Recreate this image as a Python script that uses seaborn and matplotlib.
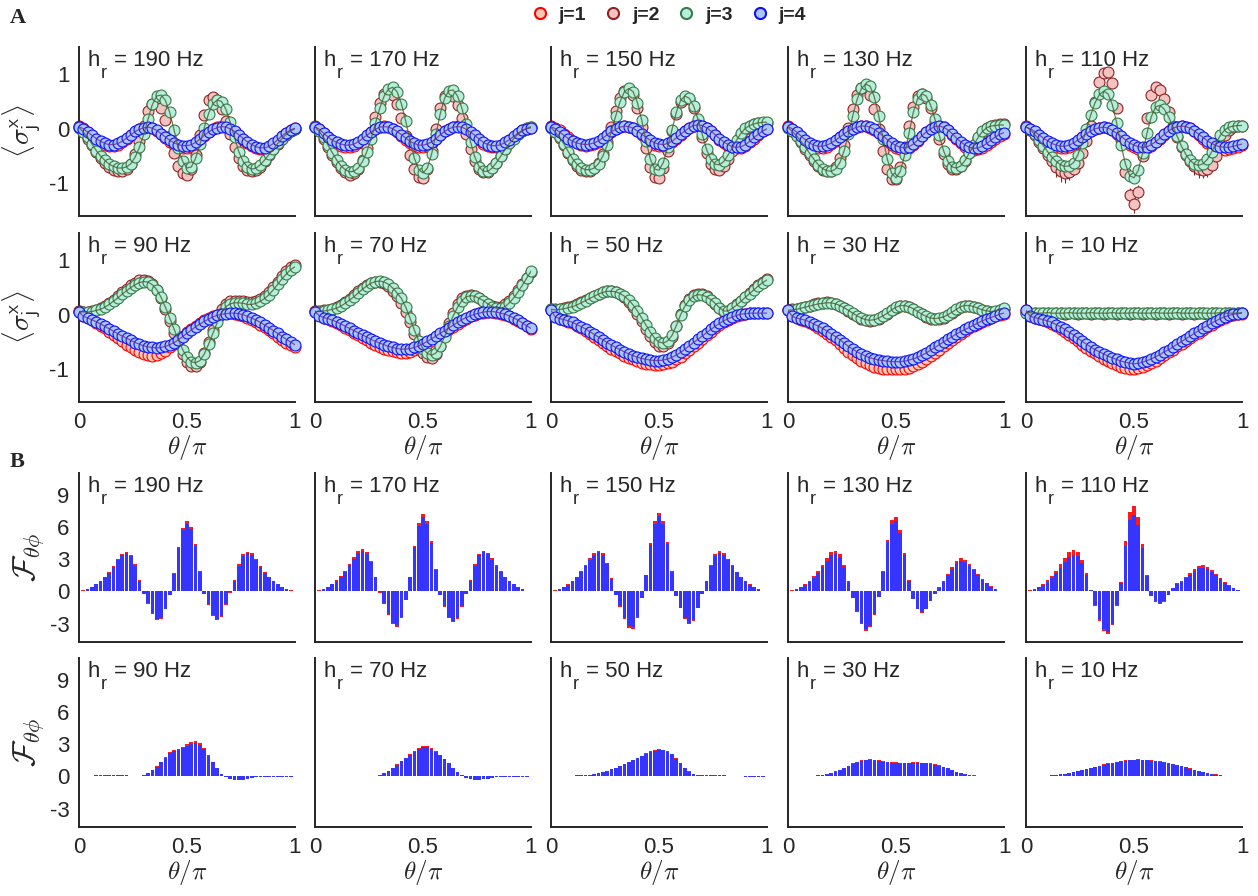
import matplotlib
matplotlib.use('Agg')
import matplotlib.pyplot as plt
from matplotlib.lines import Line2D
import seaborn as sns

# theta / pi sample points
theta = [0.00, 0.02, 0.04, 0.06, 0.08, 0.10, 0.12, 0.14, 0.16, 0.18,
         0.20, 0.22, 0.24, 0.26, 0.28, 0.30, 0.32, 0.34, 0.36, 0.38,
         0.40, 0.42, 0.44, 0.46, 0.48, 0.50, 0.52, 0.54, 0.56, 0.58,
         0.60, 0.62, 0.64, 0.66, 0.68, 0.70, 0.72, 0.74, 0.76, 0.78,
         0.80, 0.82, 0.84, 0.86, 0.88, 0.90, 0.92, 0.94, 0.96, 0.98,
         1.00]

hr_values = [190, 170, 150, 130, 110, 90, 70, 50, 30, 10]

# ---- <sigma_j^x>, one list per spin j ----
s190_j1 = [0.05, 0.01, -0.06, -0.13, -0.20, -0.26, -0.30, -0.32, -0.32, -0.30,
           -0.25, -0.19, -0.12, -0.06, -0.01, 0.02, 0.03, 0.01, -0.04, -0.10,
           -0.17, -0.24, -0.29, -0.33, -0.35, -0.35, -0.33, -0.28, -0.21, -0.13,
           -0.06, -0.01, 0.03, 0.05, 0.04, 0.00, -0.06, -0.13, -0.20, -0.27,
           -0.32, -0.36, -0.38, -0.38, -0.35, -0.29, -0.22, -0.14, -0.07, -0.02,
           0.01]
s190_j2 = [0.03, -0.06, -0.18, -0.30, -0.42, -0.53, -0.62, -0.70, -0.75, -0.78,
           -0.78, -0.74, -0.64, -0.46, -0.22, 0.06, 0.32, 0.46, 0.48, 0.38,
           0.16, -0.14, -0.44, -0.68, -0.82, -0.85, -0.74, -0.48, -0.12, 0.26,
           0.52, 0.58, 0.52, 0.36, 0.14, -0.10, -0.34, -0.54, -0.68, -0.76,
           -0.78, -0.76, -0.70, -0.60, -0.49, -0.38, -0.28, -0.19, -0.11, -0.05,
           -0.01]
s190_j3 = [0.02, -0.06, -0.16, -0.28, -0.40, -0.50, -0.58, -0.65, -0.69, -0.72,
           -0.72, -0.70, -0.64, -0.52, -0.34, -0.10, 0.18, 0.45, 0.60, 0.62,
           0.52, 0.30, -0.02, -0.36, -0.60, -0.72, -0.70, -0.54, -0.28, 0.02,
           0.28, 0.46, 0.53, 0.50, 0.36, 0.12, -0.16, -0.42, -0.60, -0.70,
           -0.74, -0.72, -0.66, -0.57, -0.47, -0.37, -0.27, -0.18, -0.10, -0.04,
           0.00]
s190_j4 = [0.04, 0.00, -0.06, -0.12, -0.18, -0.23, -0.27, -0.29, -0.29, -0.27,
           -0.23, -0.17, -0.11, -0.05, -0.01, 0.02, 0.03, 0.01, -0.03, -0.09,
           -0.15, -0.21, -0.26, -0.29, -0.31, -0.31, -0.29, -0.25, -0.19, -0.12,
           -0.06, -0.01, 0.02, 0.04, 0.03, 0.00, -0.05, -0.11, -0.18, -0.24,
           -0.29, -0.33, -0.35, -0.35, -0.32, -0.27, -0.20, -0.13, -0.07, -0.02,
           0.01]

s170_j1 = [0.05, 0.00, -0.08, -0.16, -0.23, -0.28, -0.31, -0.33, -0.33, -0.31,
           -0.26, -0.20, -0.13, -0.06, -0.01, 0.03, 0.05, 0.04, 0.00, -0.06,
           -0.13, -0.20, -0.26, -0.31, -0.34, -0.34, -0.31, -0.26, -0.19, -0.12,
           -0.05, 0.00, 0.04, 0.05, 0.04, -0.01, -0.07, -0.14, -0.21, -0.28,
           -0.32, -0.34, -0.34, -0.32, -0.27, -0.21, -0.15, -0.09, -0.04, 0.00,
           0.02]
s170_j2 = [0.04, -0.05, -0.18, -0.33, -0.48, -0.61, -0.72, -0.80, -0.84, -0.82,
           -0.74, -0.58, -0.36, -0.08, 0.22, 0.48, 0.64, 0.68, 0.62, 0.46,
           0.20, -0.14, -0.48, -0.74, -0.88, -0.90, -0.74, -0.40, 0.00, 0.38,
           0.60, 0.66, 0.60, 0.44, 0.20, -0.10, -0.38, -0.60, -0.74, -0.80,
           -0.79, -0.72, -0.62, -0.50, -0.38, -0.27, -0.17, -0.09, -0.03, 0.02,
           0.04]
s170_j3 = [0.03, -0.05, -0.16, -0.30, -0.44, -0.57, -0.68, -0.75, -0.79, -0.78,
           -0.72, -0.60, -0.42, -0.18, 0.10, 0.38, 0.60, 0.73, 0.76, 0.68,
           0.46, 0.14, -0.22, -0.54, -0.75, -0.81, -0.72, -0.46, -0.10, 0.28,
           0.56, 0.70, 0.71, 0.60, 0.38, 0.08, -0.24, -0.52, -0.70, -0.78,
           -0.78, -0.72, -0.62, -0.50, -0.38, -0.27, -0.18, -0.10, -0.04, 0.01,
           0.04]
s170_j4 = [0.04, -0.01, -0.08, -0.15, -0.21, -0.25, -0.28, -0.30, -0.30, -0.28,
           -0.24, -0.18, -0.12, -0.06, -0.01, 0.03, 0.04, 0.03, 0.00, -0.05,
           -0.11, -0.17, -0.23, -0.27, -0.30, -0.30, -0.28, -0.24, -0.18, -0.11,
           -0.05, 0.00, 0.03, 0.04, 0.03, -0.01, -0.06, -0.12, -0.19, -0.25,
           -0.29, -0.31, -0.31, -0.29, -0.25, -0.20, -0.14, -0.08, -0.03, 0.00,
           0.02]

s150_j1 = [0.05, 0.02, -0.03, -0.09, -0.16, -0.22, -0.27, -0.30, -0.31, -0.30,
           -0.28, -0.24, -0.18, -0.12, -0.06, -0.01, 0.03, 0.05, 0.04, 0.01,
           -0.05, -0.11, -0.18, -0.24, -0.29, -0.32, -0.32, -0.30, -0.25, -0.18,
           -0.11, -0.04, 0.02, 0.06, 0.07, 0.06, 0.02, -0.05, -0.12, -0.20,
           -0.27, -0.32, -0.35, -0.36, -0.35, -0.31, -0.25, -0.18, -0.11, -0.05,
           -0.01]
s150_j2 = [0.03, -0.06, -0.17, -0.30, -0.45, -0.58, -0.68, -0.75, -0.78, -0.77,
           -0.72, -0.62, -0.46, -0.24, 0.04, 0.32, 0.56, 0.70, 0.72, 0.62,
           0.38, 0.04, -0.36, -0.70, -0.88, -0.90, -0.72, -0.40, -0.04, 0.28,
           0.50, 0.58, 0.54, 0.38, 0.14, -0.16, -0.44, -0.64, -0.74, -0.75,
           -0.68, -0.55, -0.40, -0.24, -0.11, -0.01, 0.05, 0.08, 0.10, 0.11,
           0.11]
s150_j3 = [0.02, -0.06, -0.16, -0.28, -0.42, -0.55, -0.65, -0.72, -0.75, -0.75,
           -0.72, -0.64, -0.50, -0.30, -0.04, 0.24, 0.50, 0.68, 0.74, 0.68,
           0.48, 0.16, -0.22, -0.56, -0.74, -0.76, -0.62, -0.34, -0.02, 0.30,
           0.52, 0.60, 0.56, 0.42, 0.18, -0.10, -0.38, -0.56, -0.65, -0.66,
           -0.60, -0.48, -0.34, -0.20, -0.08, 0.01, 0.06, 0.09, 0.11, 0.12,
           0.12]
s150_j4 = [0.04, 0.00, -0.06, -0.12, -0.18, -0.23, -0.26, -0.28, -0.29, -0.28,
           -0.26, -0.22, -0.17, -0.11, -0.05, -0.01, 0.03, 0.05, 0.04, 0.01,
           -0.04, -0.10, -0.16, -0.21, -0.26, -0.28, -0.29, -0.27, -0.23, -0.17,
           -0.10, -0.04, 0.02, 0.06, 0.07, 0.06, 0.02, -0.04, -0.11, -0.18,
           -0.24, -0.29, -0.33, -0.34, -0.33, -0.29, -0.23, -0.16, -0.10, -0.04,
           0.00]

s130_j1 = [0.05, 0.00, -0.07, -0.15, -0.23, -0.29, -0.33, -0.35, -0.35, -0.33,
           -0.28, -0.22, -0.16, -0.10, -0.04, 0.00, 0.03, 0.05, 0.05, 0.02,
           -0.02, -0.08, -0.15, -0.23, -0.30, -0.35, -0.38, -0.38, -0.35, -0.29,
           -0.22, -0.14, -0.06, 0.00, 0.04, 0.05, 0.03, -0.03, -0.11, -0.19,
           -0.27, -0.33, -0.37, -0.39, -0.38, -0.35, -0.30, -0.24, -0.18, -0.13,
           -0.10]
s130_j2 = [0.03, -0.05, -0.14, -0.25, -0.37, -0.49, -0.60, -0.69, -0.75, -0.78,
           -0.77, -0.70, -0.54, -0.30, 0.02, 0.36, 0.62, 0.74, 0.74, 0.62,
           0.36, 0.00, -0.40, -0.74, -0.92, -0.92, -0.70, -0.34, 0.06, 0.40,
           0.60, 0.64, 0.56, 0.38, 0.12, -0.18, -0.46, -0.64, -0.73, -0.74,
           -0.69, -0.59, -0.45, -0.30, -0.17, -0.06, 0.01, 0.05, 0.07, 0.08,
           0.08]
s130_j3 = [0.02, -0.05, -0.13, -0.23, -0.34, -0.45, -0.56, -0.66, -0.73, -0.77,
           -0.78, -0.74, -0.62, -0.40, -0.10, 0.24, 0.54, 0.74, 0.82, 0.78,
           0.58, 0.24, -0.18, -0.56, -0.82, -0.90, -0.78, -0.48, -0.08, 0.30,
           0.55, 0.64, 0.60, 0.44, 0.18, -0.12, -0.40, -0.60, -0.70, -0.72,
           -0.68, -0.58, -0.44, -0.30, -0.16, -0.05, 0.02, 0.05, 0.06, 0.07,
           0.07]
s130_j4 = [0.04, 0.00, -0.06, -0.13, -0.20, -0.26, -0.30, -0.32, -0.32, -0.30,
           -0.26, -0.21, -0.15, -0.09, -0.04, 0.00, 0.03, 0.05, 0.05, 0.03,
           -0.01, -0.07, -0.13, -0.20, -0.26, -0.31, -0.34, -0.35, -0.33, -0.28,
           -0.21, -0.13, -0.06, 0.00, 0.04, 0.05, 0.03, -0.02, -0.09, -0.17,
           -0.24, -0.30, -0.34, -0.36, -0.35, -0.32, -0.27, -0.21, -0.15, -0.10,
           -0.07]

s110_j1 = [0.04, 0.00, -0.06, -0.13, -0.20, -0.26, -0.31, -0.34, -0.36, -0.36,
           -0.33, -0.28, -0.22, -0.16, -0.10, -0.04, 0.00, 0.02, 0.03, 0.01,
           -0.03, -0.09, -0.16, -0.23, -0.29, -0.34, -0.37, -0.38, -0.36, -0.31,
           -0.25, -0.18, -0.11, -0.04, 0.01, 0.04, 0.05, 0.04, 0.01, -0.05,
           -0.12, -0.19, -0.26, -0.32, -0.36, -0.38, -0.39, -0.38, -0.36, -0.33,
           -0.30]
s110_j2 = [0.05, -0.03, -0.12, -0.24, -0.36, -0.48, -0.60, -0.70, -0.78, -0.82,
           -0.80, -0.74, -0.62, -0.44, -0.22, 0.06, 0.50, 0.86, 1.02, 1.04,
           0.84, 0.38, -0.20, -0.80, -1.22, -1.38, -1.16, -0.50, 0.20, 0.62,
           0.76, 0.72, 0.54, 0.30, 0.06, -0.16, -0.34, -0.48, -0.60, -0.68,
           -0.74, -0.76, -0.74, -0.66, -0.50, -0.30, -0.12, -0.02, 0.03, 0.05,
           0.06]
s110_j2_err = [0.02, 0.03, 0.04, 0.06, 0.08, 0.10, 0.14, 0.18, 0.20, 0.18,
               0.14, 0.10, 0.08, 0.06, 0.05, 0.05, 0.06, 0.06, 0.05, 0.05,
               0.06, 0.08, 0.10, 0.12, 0.14, 0.16, 0.12, 0.08, 0.06, 0.05,
               0.04, 0.04, 0.05, 0.06, 0.08, 0.10, 0.12, 0.14, 0.15, 0.16,
               0.16, 0.15, 0.14, 0.12, 0.08, 0.05, 0.04, 0.03, 0.03, 0.02,
               0.02]
s110_j3 = [0.04, -0.02, -0.10, -0.20, -0.31, -0.42, -0.52, -0.60, -0.66, -0.69,
           -0.68, -0.62, -0.48, -0.26, 0.00, 0.26, 0.48, 0.63, 0.69, 0.64,
           0.44, 0.10, -0.30, -0.64, -0.86, -0.90, -0.76, -0.44, -0.08, 0.22,
           0.40, 0.43, 0.36, 0.22, 0.04, -0.14, -0.32, -0.47, -0.58, -0.65,
           -0.67, -0.64, -0.56, -0.42, -0.26, -0.12, -0.02, 0.03, 0.05, 0.06,
           0.06]
s110_j4 = [0.03, 0.00, -0.05, -0.11, -0.17, -0.22, -0.27, -0.30, -0.32, -0.32,
           -0.30, -0.26, -0.21, -0.15, -0.09, -0.04, 0.00, 0.02, 0.03, 0.01,
           -0.03, -0.08, -0.14, -0.20, -0.26, -0.30, -0.33, -0.34, -0.33, -0.29,
           -0.24, -0.17, -0.10, -0.04, 0.01, 0.04, 0.05, 0.04, 0.01, -0.04,
           -0.10, -0.16, -0.22, -0.27, -0.31, -0.33, -0.34, -0.34, -0.32, -0.30,
           -0.28]

s90_j1 = [0.07, -0.02, -0.06, -0.10, -0.15, -0.20, -0.25, -0.31, -0.37, -0.43,
          -0.49, -0.55, -0.60, -0.65, -0.69, -0.72, -0.74, -0.75, -0.74, -0.71,
          -0.66, -0.60, -0.53, -0.46, -0.39, -0.32, -0.26, -0.20, -0.15, -0.10,
          -0.06, -0.03, 0.00, 0.02, 0.03, 0.03, 0.02, 0.00, -0.02, -0.05,
          -0.09, -0.13, -0.18, -0.23, -0.28, -0.34, -0.40, -0.46, -0.51, -0.56,
          -0.60]
s90_j2 = [0.07, 0.06, 0.06, 0.07, 0.09, 0.12, 0.16, 0.22, 0.28, 0.35,
          0.42, 0.48, 0.54, 0.59, 0.63, 0.64, 0.62, 0.56, 0.45, 0.30,
          0.10, -0.12, -0.34, -0.54, -0.72, -0.86, -0.94, -0.94, -0.86, -0.70,
          -0.50, -0.28, -0.08, 0.10, 0.20, 0.25, 0.26, 0.26, 0.25, 0.23,
          0.23, 0.25, 0.29, 0.34, 0.42, 0.51, 0.61, 0.71, 0.80, 0.87,
          0.92]
s90_j3 = [0.06, 0.05, 0.05, 0.06, 0.08, 0.10, 0.14, 0.19, 0.25, 0.31,
          0.38, 0.44, 0.50, 0.55, 0.59, 0.61, 0.60, 0.55, 0.46, 0.32,
          0.14, -0.06, -0.26, -0.46, -0.64, -0.78, -0.86, -0.88, -0.84, -0.72,
          -0.54, -0.34, -0.14, 0.04, 0.15, 0.20, 0.22, 0.22, 0.21, 0.19,
          0.19, 0.21, 0.25, 0.30, 0.37, 0.46, 0.56, 0.66, 0.75, 0.83,
          0.88]
s90_j4 = [0.06, -0.03, -0.06, -0.09, -0.13, -0.17, -0.21, -0.26, -0.30, -0.35,
          -0.39, -0.43, -0.47, -0.51, -0.54, -0.57, -0.59, -0.60, -0.61, -0.60,
          -0.58, -0.55, -0.51, -0.46, -0.40, -0.34, -0.28, -0.22, -0.17, -0.12,
          -0.08, -0.04, -0.01, 0.01, 0.02, 0.03, 0.03, 0.02, 0.00, -0.03,
          -0.06, -0.10, -0.14, -0.19, -0.24, -0.29, -0.34, -0.40, -0.45, -0.50,
          -0.55]

s70_j1 = [0.07, -0.01, -0.05, -0.08, -0.11, -0.15, -0.19, -0.24, -0.28, -0.33,
          -0.37, -0.42, -0.46, -0.51, -0.55, -0.59, -0.62, -0.65, -0.67, -0.69,
          -0.70, -0.70, -0.68, -0.65, -0.62, -0.58, -0.53, -0.48, -0.43, -0.38,
          -0.33, -0.27, -0.22, -0.17, -0.12, -0.07, -0.03, 0.00, 0.03, 0.04,
          0.05, 0.05, 0.04, 0.02, 0.00, -0.03, -0.07, -0.11, -0.16, -0.21,
          -0.26]
s70_j2 = [0.07, 0.07, 0.08, 0.09, 0.11, 0.14, 0.18, 0.23, 0.29, 0.36,
          0.43, 0.50, 0.55, 0.59, 0.61, 0.61, 0.58, 0.52, 0.44, 0.34,
          0.22, 0.06, -0.14, -0.36, -0.56, -0.70, -0.78, -0.79, -0.72, -0.58,
          -0.38, -0.16, 0.04, 0.20, 0.30, 0.35, 0.36, 0.34, 0.30, 0.25,
          0.20, 0.16, 0.14, 0.15, 0.19, 0.26, 0.35, 0.46, 0.57, 0.68,
          0.78]
s70_j3 = [0.06, 0.06, 0.07, 0.08, 0.10, 0.12, 0.16, 0.21, 0.27, 0.33,
          0.40, 0.47, 0.53, 0.58, 0.61, 0.62, 0.60, 0.56, 0.49, 0.40,
          0.30, 0.14, -0.06, -0.28, -0.48, -0.62, -0.71, -0.74, -0.70, -0.58,
          -0.40, -0.20, -0.02, 0.14, 0.26, 0.33, 0.35, 0.34, 0.30, 0.26,
          0.20, 0.15, 0.12, 0.12, 0.15, 0.22, 0.31, 0.42, 0.54, 0.67,
          0.80]
s70_j4 = [0.06, -0.02, -0.05, -0.07, -0.10, -0.13, -0.17, -0.21, -0.25, -0.29,
          -0.33, -0.37, -0.41, -0.45, -0.49, -0.52, -0.55, -0.58, -0.60, -0.62,
          -0.63, -0.63, -0.62, -0.60, -0.57, -0.53, -0.49, -0.44, -0.39, -0.34,
          -0.29, -0.24, -0.19, -0.14, -0.09, -0.05, -0.02, 0.01, 0.03, 0.05,
          0.06, 0.06, 0.05, 0.03, 0.01, -0.02, -0.06, -0.10, -0.15, -0.20,
          -0.25]

s50_j1 = [0.09, -0.03, -0.07, -0.10, -0.13, -0.16, -0.20, -0.25, -0.30, -0.35,
          -0.40, -0.46, -0.52, -0.57, -0.62, -0.67, -0.71, -0.75, -0.79, -0.82,
          -0.85, -0.88, -0.90, -0.91, -0.92, -0.92, -0.91, -0.89, -0.86, -0.82,
          -0.77, -0.71, -0.65, -0.58, -0.51, -0.44, -0.38, -0.31, -0.25, -0.19,
          -0.14, -0.09, -0.05, -0.02, 0.00, 0.02, 0.03, 0.03, 0.03, 0.03,
          0.03]
s50_j2 = [0.11, 0.10, 0.11, 0.12, 0.14, 0.16, 0.19, 0.23, 0.27, 0.31,
          0.35, 0.39, 0.42, 0.44, 0.44, 0.42, 0.38, 0.32, 0.24, 0.14,
          0.02, -0.12, -0.26, -0.39, -0.50, -0.57, -0.58, -0.52, -0.40, -0.20,
          0.02, 0.18, 0.29, 0.36, 0.39, 0.38, 0.34, 0.28, 0.20, 0.12,
          0.06, 0.07, 0.12, 0.19, 0.26, 0.33, 0.40, 0.47, 0.54, 0.60,
          0.65]
s50_j3 = [0.10, 0.09, 0.10, 0.11, 0.13, 0.15, 0.18, 0.22, 0.26, 0.30,
          0.34, 0.38, 0.41, 0.43, 0.43, 0.42, 0.39, 0.34, 0.27, 0.18,
          0.07, -0.06, -0.19, -0.32, -0.43, -0.50, -0.52, -0.48, -0.38, -0.20,
          0.00, 0.16, 0.27, 0.34, 0.37, 0.36, 0.33, 0.28, 0.21, 0.13,
          0.07, 0.07, 0.12, 0.18, 0.25, 0.32, 0.39, 0.46, 0.53, 0.59,
          0.64]
s50_j4 = [0.08, -0.04, -0.07, -0.09, -0.11, -0.14, -0.18, -0.22, -0.26, -0.31,
          -0.36, -0.41, -0.46, -0.51, -0.56, -0.60, -0.64, -0.68, -0.72, -0.75,
          -0.78, -0.80, -0.82, -0.83, -0.84, -0.84, -0.83, -0.81, -0.78, -0.74,
          -0.69, -0.63, -0.57, -0.51, -0.45, -0.39, -0.33, -0.27, -0.21, -0.16,
          -0.11, -0.07, -0.04, -0.01, 0.01, 0.02, 0.03, 0.03, 0.03, 0.03,
          0.03]

s30_j1 = [0.09, -0.02, -0.06, -0.09, -0.12, -0.15, -0.19, -0.24, -0.29, -0.35,
          -0.41, -0.47, -0.54, -0.61, -0.68, -0.74, -0.79, -0.84, -0.88, -0.92,
          -0.95, -0.97, -0.99, -1.00, -1.00, -1.00, -1.00, -0.99, -0.97, -0.94,
          -0.90, -0.86, -0.81, -0.76, -0.70, -0.64, -0.58, -0.52, -0.46, -0.40,
          -0.35, -0.30, -0.25, -0.21, -0.17, -0.13, -0.09, -0.06, -0.03, 0.00,
          0.02]
s30_j2 = [0.09, 0.10, 0.11, 0.13, 0.15, 0.17, 0.19, 0.21, 0.22, 0.23,
          0.22, 0.20, 0.16, 0.12, 0.07, 0.02, -0.03, -0.07, -0.10, -0.11,
          -0.10, -0.07, -0.03, 0.02, 0.08, 0.13, 0.16, 0.17, 0.15, 0.11,
          0.06, 0.01, -0.04, -0.07, -0.08, -0.07, -0.05, -0.01, 0.04, 0.09,
          0.14, 0.17, 0.17, 0.15, 0.12, 0.09, 0.07, 0.06, 0.06, 0.08,
          0.11]
s30_j3 = [0.08, 0.09, 0.10, 0.12, 0.14, 0.16, 0.18, 0.20, 0.21, 0.22,
          0.22, 0.20, 0.17, 0.13, 0.08, 0.03, -0.02, -0.06, -0.09, -0.10,
          -0.09, -0.06, -0.02, 0.03, 0.09, 0.14, 0.17, 0.17, 0.15, 0.11,
          0.06, 0.01, -0.03, -0.06, -0.07, -0.06, -0.04, 0.00, 0.05, 0.10,
          0.15, 0.17, 0.17, 0.15, 0.12, 0.09, 0.07, 0.06, 0.07, 0.09,
          0.12]
s30_j4 = [0.08, -0.03, -0.06, -0.08, -0.10, -0.13, -0.17, -0.21, -0.25, -0.30,
          -0.35, -0.40, -0.46, -0.52, -0.58, -0.63, -0.68, -0.72, -0.76, -0.79,
          -0.81, -0.83, -0.84, -0.85, -0.86, -0.86, -0.86, -0.85, -0.83, -0.81,
          -0.78, -0.74, -0.70, -0.65, -0.60, -0.55, -0.50, -0.45, -0.40, -0.35,
          -0.31, -0.27, -0.23, -0.19, -0.15, -0.11, -0.08, -0.05, -0.02, 0.01,
          0.03]

s10_j1 = [0.09, -0.02, -0.05, -0.08, -0.10, -0.13, -0.17, -0.21, -0.26, -0.31,
          -0.37, -0.43, -0.49, -0.55, -0.61, -0.66, -0.71, -0.76, -0.81, -0.85,
          -0.89, -0.92, -0.95, -0.97, -0.99, -1.00, -0.98, -0.95, -0.92, -0.88,
          -0.84, -0.79, -0.74, -0.69, -0.64, -0.58, -0.53, -0.48, -0.43, -0.38,
          -0.33, -0.28, -0.23, -0.19, -0.14, -0.10, -0.06, -0.03, -0.01, 0.01,
          0.02]
s10_j2 = [0.04, 0.03, 0.03, 0.02, 0.03, 0.03, 0.02, 0.03, 0.03, 0.02,
          0.03, 0.03, 0.02, 0.03, 0.03, 0.02, 0.03, 0.03, 0.02, 0.03,
          0.03, 0.02, 0.03, 0.03, 0.02, 0.03, 0.03, 0.02, 0.03, 0.03,
          0.02, 0.03, 0.03, 0.02, 0.03, 0.03, 0.02, 0.03, 0.03, 0.02,
          0.03, 0.03, 0.02, 0.03, 0.03, 0.02, 0.03, 0.03, 0.02, 0.03,
          0.04]
s10_j3 = [0.04, 0.04, 0.03, 0.03, 0.03, 0.04, 0.03, 0.03, 0.03, 0.03,
          0.04, 0.03, 0.03, 0.03, 0.03, 0.04, 0.03, 0.03, 0.03, 0.03,
          0.04, 0.03, 0.03, 0.03, 0.03, 0.04, 0.03, 0.03, 0.03, 0.03,
          0.04, 0.03, 0.03, 0.03, 0.03, 0.04, 0.03, 0.03, 0.03, 0.03,
          0.04, 0.03, 0.03, 0.03, 0.03, 0.04, 0.03, 0.03, 0.03, 0.03,
          0.04]
s10_j4 = [0.08, -0.03, -0.05, -0.07, -0.09, -0.11, -0.14, -0.18, -0.22, -0.27,
          -0.32, -0.37, -0.43, -0.49, -0.54, -0.59, -0.64, -0.68, -0.72, -0.76,
          -0.79, -0.82, -0.85, -0.87, -0.89, -0.90, -0.89, -0.87, -0.84, -0.81,
          -0.77, -0.73, -0.68, -0.64, -0.59, -0.54, -0.49, -0.44, -0.39, -0.34,
          -0.29, -0.24, -0.20, -0.15, -0.11, -0.07, -0.04, -0.01, 0.01, 0.02,
          0.03]

# ---- F_theta_phi bars (red = first set, blue = second set) ----
f190_red = [0.00, 0.09, 0.22, 0.43, 0.69, 1.00, 1.36, 1.83, 2.40, 3.02,
            3.48, 3.68, 3.38, 2.50, 1.05, -0.22, -1.15, -2.08, -2.70, -2.60,
            -1.68, -0.32, 1.68, 4.15, 5.90, 6.55, 6.02, 4.36, 1.88, -0.22,
            -1.26, -2.30, -2.65, -2.40, -1.26, -0.12, 1.05, 2.50, 3.43, 3.70,
            3.54, 3.02, 2.40, 1.83, 1.36, 1.00, 0.69, 0.43, 0.22, 0.09,
            0.00]
f190_blue = [0.00, 0.08, 0.20, 0.40, 0.65, 0.95, 1.30, 1.75, 2.30, 2.90,
             3.35, 3.55, 3.25, 2.40, 1.00, -0.20, -1.10, -2.00, -2.60, -2.50,
             -1.60, -0.30, 1.60, 4.00, 5.70, 6.30, 5.80, 4.20, 1.80, -0.20,
             -1.20, -2.20, -2.55, -2.30, -1.20, -0.10, 1.00, 2.40, 3.30, 3.55,
             3.40, 2.90, 2.30, 1.75, 1.30, 0.95, 0.65, 0.40, 0.20, 0.08,
             0.00]
f170_red = [0.00, 0.09, 0.22, 0.43, 0.70, 1.04, 1.44, 1.94, 2.55, 3.20,
            3.72, 3.92, 3.65, 2.80, 1.36, -0.11, -1.15, -2.20, -3.02, -3.28,
            -2.50, -0.84, 1.36, 4.26, 6.34, 7.15, 6.52, 4.66, 2.08, -0.32,
            -1.46, -2.50, -2.86, -2.60, -1.46, -0.21, 1.05, 2.50, 3.48, 3.80,
            3.58, 3.06, 2.44, 1.85, 1.37, 1.00, 0.69, 0.42, 0.21, 0.08,
            0.00]
f170_blue = [0.00, 0.08, 0.20, 0.40, 0.66, 0.98, 1.36, 1.84, 2.42, 3.05,
             3.55, 3.75, 3.50, 2.70, 1.30, -0.10, -1.10, -2.10, -2.90, -3.15,
             -2.40, -0.80, 1.30, 4.10, 6.10, 6.90, 6.30, 4.50, 2.00, -0.30,
             -1.40, -2.40, -2.75, -2.50, -1.40, -0.20, 1.00, 2.40, 3.35, 3.65,
             3.45, 2.95, 2.35, 1.78, 1.32, 0.96, 0.66, 0.40, 0.20, 0.08,
             0.00]
f150_red = [0.00, 0.09, 0.21, 0.41, 0.67, 0.99, 1.37, 1.85, 2.43, 3.08,
            3.58, 3.80, 3.54, 2.66, 1.20, -0.32, -1.46, -2.60, -3.38, -3.48,
            -2.50, -0.63, 1.56, 4.46, 6.52, 7.25, 6.52, 4.56, 1.87, -0.42,
            -1.56, -2.60, -3.01, -2.75, -1.56, -0.26, 0.99, 2.44, 3.43, 3.74,
            3.55, 3.03, 2.41, 1.83, 1.35, 0.98, 0.66, 0.40, 0.20, 0.08,
            0.00]
f150_blue = [0.00, 0.08, 0.19, 0.38, 0.63, 0.94, 1.30, 1.76, 2.32, 2.94,
             3.42, 3.62, 3.38, 2.55, 1.15, -0.30, -1.40, -2.50, -3.25, -3.35,
             -2.40, -0.60, 1.50, 4.30, 6.30, 7.00, 6.30, 4.40, 1.80, -0.40,
             -1.50, -2.50, -2.90, -2.65, -1.50, -0.25, 0.95, 2.35, 3.30, 3.60,
             3.42, 2.92, 2.32, 1.76, 1.30, 0.94, 0.63, 0.38, 0.19, 0.08,
             0.00]
f130_red = [0.00, 0.09, 0.22, 0.42, 0.68, 1.01, 1.40, 1.88, 2.46, 3.10,
            3.62, 3.80, 3.46, 2.48, 0.97, -0.64, -1.90, -3.05, -3.66, -3.34,
            -2.18, -0.52, 1.88, 4.82, 6.62, 6.88, 5.66, 3.56, 1.05, -0.73,
            -1.66, -1.97, -1.66, -0.93, -0.21, 0.37, 0.96, 1.60, 2.25, 2.80,
            3.08, 2.96, 2.58, 2.10, 1.61, 1.18, 0.80, 0.48, 0.23, 0.08,
            0.01]
f130_blue = [0.00, 0.08, 0.20, 0.38, 0.62, 0.92, 1.28, 1.72, 2.25, 2.85,
             3.35, 3.50, 3.20, 2.30, 0.90, -0.60, -1.80, -2.90, -3.50, -3.20,
             -2.10, -0.50, 1.80, 4.60, 6.30, 6.55, 5.40, 3.40, 1.00, -0.70,
             -1.60, -1.90, -1.60, -0.90, -0.20, 0.35, 0.90, 1.50, 2.10, 2.60,
             2.85, 2.75, 2.40, 1.95, 1.50, 1.10, 0.75, 0.45, 0.22, 0.08,
             0.01]
f110_red = [0.00, 0.09, 0.23, 0.43, 0.70, 1.04, 1.45, 1.93, 2.50, 3.12,
            3.65, 3.88, 3.70, 2.95, 1.70, 0.11, -1.40, -2.78, -3.72, -4.00,
            -3.16, -1.37, 0.88, 4.65, 7.35, 7.95, 6.95, 4.45, 1.55, -0.43,
            -0.96, -1.18, -0.96, -0.32, 0.33, 0.77, 0.99, 1.32, 1.72, 2.10,
            2.38, 2.44, 2.27, 1.99, 1.66, 1.27, 0.90, 0.57, 0.30, 0.11,
            0.02]
f110_blue = [0.00, 0.08, 0.20, 0.38, 0.62, 0.92, 1.28, 1.70, 2.20, 2.75,
             3.20, 3.40, 3.25, 2.60, 1.50, 0.10, -1.30, -2.60, -3.50, -3.80,
             -3.00, -1.30, 0.80, 4.20, 6.60, 7.10, 6.20, 4.00, 1.40, -0.40,
             -0.90, -1.10, -0.90, -0.30, 0.30, 0.70, 0.90, 1.20, 1.55, 1.90,
             2.15, 2.20, 2.05, 1.80, 1.50, 1.15, 0.82, 0.52, 0.28, 0.10,
             0.02]
f90_red = [0.00, 0.02, 0.04, 0.06, 0.09, 0.11, 0.13, 0.15, 0.16, 0.15,
           0.13, 0.11, 0.08, 0.05, 0.04, 0.10, 0.31, 0.57, 0.93, 1.35,
           1.82, 2.24, 2.45, 2.56, 2.72, 2.98, 3.19, 3.30, 3.08, 2.61,
           1.98, 1.35, 0.78, 0.26, -0.10, -0.26, -0.33, -0.36, -0.33, -0.26,
           -0.18, -0.10, -0.06, -0.04, -0.03, -0.03, -0.03, -0.03, -0.02, -0.01,
           0.00]
f90_blue = [0.00, 0.02, 0.04, 0.06, 0.09, 0.11, 0.13, 0.14, 0.15, 0.14,
            0.13, 0.11, 0.08, 0.05, 0.04, 0.10, 0.30, 0.55, 0.90, 1.30,
            1.75, 2.15, 2.35, 2.45, 2.60, 2.85, 3.05, 3.15, 2.95, 2.50,
            1.90, 1.30, 0.75, 0.25, -0.10, -0.25, -0.32, -0.35, -0.32, -0.25,
            -0.17, -0.10, -0.06, -0.04, -0.03, -0.03, -0.03, -0.03, -0.02, -0.01,
            0.00]
f70_red = [0.00, 0.01, 0.02, 0.03, 0.04, 0.05, 0.06, 0.07, 0.08, 0.07,
           0.06, 0.05, 0.04, 0.03, 0.03, 0.10, 0.29, 0.52, 0.80, 1.11,
           1.44, 1.75, 2.06, 2.37, 2.63, 2.80, 2.78, 2.63, 2.37, 2.01,
           1.65, 1.24, 0.82, 0.43, 0.10, -0.12, -0.25, -0.31, -0.31, -0.27,
           -0.21, -0.14, -0.09, -0.06, -0.04, -0.03, -0.03, -0.02, -0.02, -0.01,
           0.00]
f70_blue = [0.00, 0.01, 0.02, 0.03, 0.04, 0.05, 0.06, 0.07, 0.07, 0.07,
            0.06, 0.05, 0.04, 0.03, 0.03, 0.10, 0.28, 0.50, 0.78, 1.08,
            1.40, 1.70, 2.00, 2.30, 2.55, 2.72, 2.70, 2.55, 2.30, 1.95,
            1.60, 1.20, 0.80, 0.42, 0.10, -0.12, -0.24, -0.30, -0.30, -0.26,
            -0.20, -0.14, -0.09, -0.06, -0.04, -0.03, -0.03, -0.02, -0.02, -0.01,
            0.00]
f50_red = [0.00, 0.02, 0.04, 0.06, 0.07, 0.08, 0.09, 0.10, 0.12, 0.16,
           0.23, 0.31, 0.41, 0.54, 0.67, 0.82, 0.99, 1.15, 1.34, 1.52,
           1.73, 1.94, 2.14, 2.32, 2.45, 2.52, 2.49, 2.37, 2.11, 1.70,
           1.24, 0.82, 0.46, 0.23, 0.14, 0.12, 0.11, 0.10, 0.10, 0.09,
           0.09, 0.08, 0.07, 0.05, 0.02, -0.02, -0.06, -0.09, -0.10, -0.07,
           0.00]
f50_blue = [0.00, 0.02, 0.04, 0.06, 0.07, 0.08, 0.09, 0.10, 0.12, 0.16,
            0.22, 0.30, 0.40, 0.52, 0.65, 0.80, 0.96, 1.12, 1.30, 1.48,
            1.68, 1.88, 2.08, 2.25, 2.38, 2.45, 2.42, 2.30, 2.05, 1.65,
            1.20, 0.80, 0.45, 0.22, 0.14, 0.12, 0.11, 0.10, 0.10, 0.09,
            0.09, 0.08, 0.07, 0.05, 0.02, -0.02, -0.06, -0.09, -0.10, -0.07,
            0.00]
f30_red = [0.00, 0.00, 0.01, 0.02, 0.03, 0.05, 0.07, 0.10, 0.15, 0.23,
           0.33, 0.47, 0.62, 0.81, 1.01, 1.20, 1.37, 1.48, 1.56, 1.58,
           1.56, 1.50, 1.42, 1.36, 1.32, 1.30, 1.29, 1.29, 1.29, 1.30,
           1.30, 1.29, 1.27, 1.23, 1.15, 1.05, 0.92, 0.78, 0.61, 0.45,
           0.32, 0.21, 0.14, 0.09, 0.05, 0.03, 0.02, 0.01, 0.01, 0.00,
           0.00]
f30_blue = [0.00, 0.00, 0.01, 0.02, 0.03, 0.05, 0.07, 0.10, 0.15, 0.22,
            0.32, 0.45, 0.60, 0.78, 0.98, 1.16, 1.32, 1.43, 1.50, 1.52,
            1.50, 1.44, 1.37, 1.31, 1.27, 1.25, 1.24, 1.24, 1.24, 1.25,
            1.25, 1.24, 1.22, 1.18, 1.10, 1.00, 0.88, 0.74, 0.58, 0.43,
            0.30, 0.20, 0.13, 0.08, 0.05, 0.03, 0.02, 0.01, 0.01, 0.00,
            0.00]
f10_red = [0.00, 0.01, 0.02, 0.03, 0.05, 0.08, 0.11, 0.15, 0.20, 0.27,
           0.34, 0.42, 0.51, 0.60, 0.70, 0.81, 0.91, 1.01, 1.11, 1.20,
           1.29, 1.36, 1.43, 1.49, 1.54, 1.57, 1.58, 1.57, 1.54, 1.50,
           1.45, 1.40, 1.33, 1.25, 1.16, 1.07, 0.97, 0.87, 0.76, 0.64,
           0.53, 0.42, 0.33, 0.25, 0.18, 0.12, 0.07, 0.04, 0.02, 0.01,
           0.00]
f10_blue = [0.00, 0.01, 0.02, 0.03, 0.05, 0.08, 0.11, 0.15, 0.20, 0.26,
            0.33, 0.41, 0.50, 0.59, 0.69, 0.79, 0.89, 0.99, 1.09, 1.18,
            1.26, 1.33, 1.40, 1.46, 1.51, 1.54, 1.55, 1.54, 1.51, 1.47,
            1.42, 1.37, 1.30, 1.22, 1.13, 1.04, 0.94, 0.84, 0.73, 0.62,
            0.51, 0.41, 0.32, 0.24, 0.17, 0.11, 0.07, 0.04, 0.02, 0.01,
            0.00]

sigma = {190: [s190_j1, s190_j2, s190_j3, s190_j4],
         170: [s170_j1, s170_j2, s170_j3, s170_j4],
         150: [s150_j1, s150_j2, s150_j3, s150_j4],
         130: [s130_j1, s130_j2, s130_j3, s130_j4],
         110: [s110_j1, s110_j2, s110_j3, s110_j4],
         90: [s90_j1, s90_j2, s90_j3, s90_j4],
         70: [s70_j1, s70_j2, s70_j3, s70_j4],
         50: [s50_j1, s50_j2, s50_j3, s50_j4],
         30: [s30_j1, s30_j2, s30_j3, s30_j4],
         10: [s10_j1, s10_j2, s10_j3, s10_j4]}
fisher = {190: (f190_red, f190_blue), 170: (f170_red, f170_blue),
          150: (f150_red, f150_blue), 130: (f130_red, f130_blue),
          110: (f110_red, f110_blue), 90: (f90_red, f90_blue),
          70: (f70_red, f70_blue), 50: (f50_red, f50_blue),
          30: (f30_red, f30_blue), 10: (f10_red, f10_blue)}

sns.set_style('white')
plt.rcParams['font.family'] = ['Liberation Sans', 'DejaVu Sans']
plt.rcParams['mathtext.fontset'] = 'cm'
plt.rcParams['axes.unicode_minus'] = False

face = ['#f9c9b6', '#f5c2c2', '#b5eedb', '#a9c6f4']
edge = ['#ff0000', '#8c2424', '#3b7a48', '#1010ff']
axcol = '#262626'

W, H = 1258, 896
lefts = [79, 315, 551, 788, 1026]
tops = [47, 233, 473, 658]
aw, ah = 216, 169

fig = plt.figure(figsize=(12.58, 8.96), dpi=100)


def style_axis(ax, show_x, show_y):
    sns.despine(ax=ax)
    for sp in ['left', 'bottom']:
        ax.spines[sp].set_color(axcol)
        ax.spines[sp].set_linewidth(1.4)
    ax.set_xlim(0, 1)
    ax.set_xticks([0, 0.5, 1])
    ax.set_xticklabels(['0', '0.5', '1'] if show_x else [])
    ax.tick_params(direction='in', length=4, width=1, colors=axcol,
                   labelsize=16, pad=7, labelcolor='#262626')
    if not show_y:
        ax.set_yticklabels([])
    if show_x:
        ax.set_xlabel(r'$\theta/\pi$', fontsize=18, labelpad=0)
    else:
        ax.set_xlabel('')
    ax.set_ylabel('')


def panel_title(ax, hr):
    # MATLAB-like "h_r" with a large, well-lowered subscript
    base = dict(xy=(0.04, 1.0), xycoords='axes fraction', fontsize=16,
                va='baseline', ha='left', zorder=10)
    ax.annotate('h', xytext=(0, -14), textcoords='offset points', **base)
    sub = dict(base, fontsize=13)
    ax.annotate('r', xytext=(9.3, -22.5), textcoords='offset points', **sub)
    ax.annotate(f'= {hr} Hz', xytext=(19.0, -14), textcoords='offset points',
                **base)


for row in range(4):
    for col in range(5):
        l, t = lefts[col], tops[row]
        ax = fig.add_axes([l / W, 1 - (t + ah) / H, aw / W, ah / H])
        hr = hr_values[(row % 2) * 5 + col]
        if row < 2:
            series = sigma[hr]
            if hr == 110:
                ax.errorbar(theta, series[1], yerr=s110_j2_err, fmt='none',
                            ecolor=edge[1], elinewidth=0.8, zorder=1)
            for j in range(4):
                sns.scatterplot(x=theta, y=series[j], ax=ax, s=62,
                                color=face[j], edgecolor=edge[j],
                                linewidth=0.8, clip_on=False, zorder=2 + j,
                                legend=False)
            sns.lineplot(x=theta, y=series[2], ax=ax, color='#4f5a2c',
                         lw=0.9, alpha=0.8, estimator=None, zorder=7)
            sns.lineplot(x=theta, y=series[3], ax=ax, color='#6a2c8c',
                         lw=0.9, alpha=0.8, estimator=None, zorder=7)
            ax.set_ylim(-1.6, 1.5)
            ax.set_yticks([-1, 0, 1])
            style_axis(ax, row == 1, col == 0)
            if col == 0:
                ax.set_ylabel(r'$\langle\sigma_{\mathsf{j}}^{\mathsf{x}}\rangle$',
                              fontsize=20, labelpad=4)
        else:
            red, blue = fisher[hr]
            sns.barplot(x=theta, y=red, ax=ax, native_scale=True, width=0.85,
                        color='#ff1a1a', saturation=1, linewidth=0,
                        errorbar=None)
            sns.barplot(x=theta, y=blue, ax=ax, native_scale=True, width=0.85,
                        color='#3535ff', saturation=1, linewidth=0,
                        errorbar=None)
            ax.set_ylim(-4.7, 11)
            ax.set_yticks([-3, 0, 3, 6, 9])
            style_axis(ax, row == 3, col == 0)
            if col == 0:
                ax.set_ylabel(r'$\mathcal{F}_{\theta\phi}$', fontsize=23,
                              labelpad=2)
        panel_title(ax, hr)

fig.text(10 / W, 1 - 18 / H, 'A', fontsize=16, fontweight='bold',
         family='Liberation Serif', va='center', ha='left')
fig.text(10 / W, 1 - 462 / H, 'B', fontsize=16, fontweight='bold',
         family='Liberation Serif', va='center', ha='left')

handles = [Line2D([], [], marker='o', ls='', markersize=8, mfc=face[j],
                  mec=edge[j], mew=1.5) for j in range(4)]
fig.legend(handles, ['j=1', 'j=2', 'j=3', 'j=4'], loc='center',
           bbox_to_anchor=(668 / W, 1 - 15 / H), ncol=4, frameon=False,
           prop={'weight': 'bold', 'size': 14}, handletextpad=0.45,
           columnspacing=0.9, handlelength=1.0)

fig.savefig('out.png', dpi=100)
